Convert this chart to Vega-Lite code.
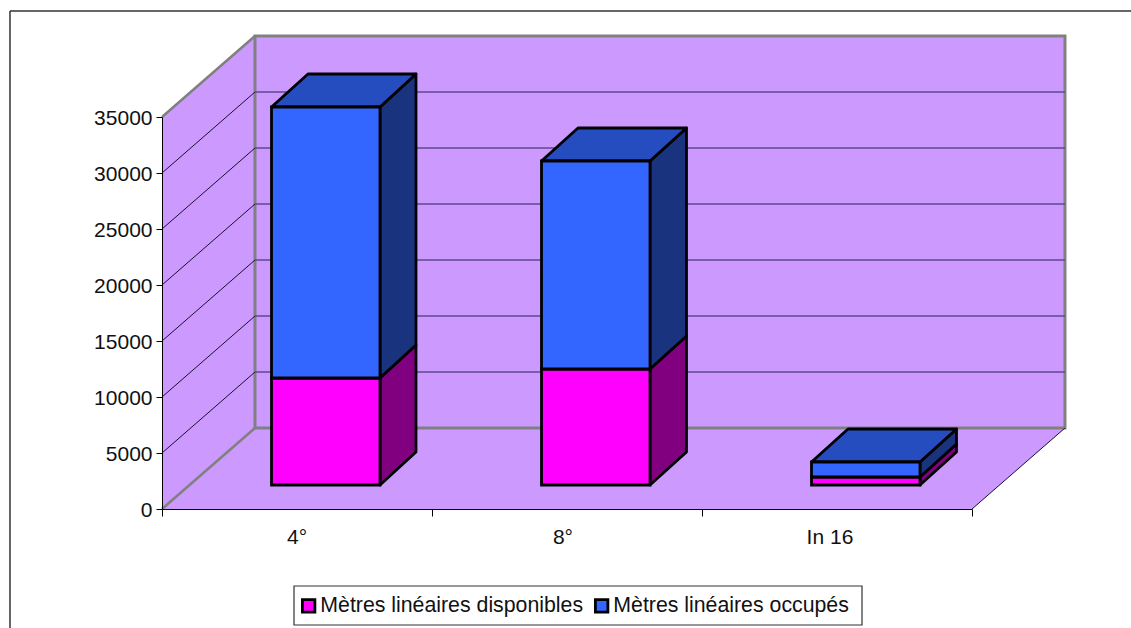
{"$schema":"https://vega.github.io/schema/vega-lite/v6.json","width":810,"height":392,"autosize":"none","padding":{"left":162,"top":117,"right":159,"bottom":119},"background":"white","config":{"view":{"stroke":null},"font":"Liberation Sans"},
"datasets":{
"bars":[
{"category":"4°","series":"Mètres linéaires disponibles","value":9550,"u":0.4056,"u2":0.8074,"v":2143,"v2":11696},
{"category":"4°","series":"Mètres linéaires occupés","value":24200,"u":0.4056,"u2":0.8074,"v":11696,"v2":35893},
{"category":"8°","series":"Mètres linéaires disponibles","value":10360,"u":1.4056,"u2":1.8074,"v":2143,"v2":12500},
{"category":"8°","series":"Mètres linéaires occupés","value":18570,"u":1.4056,"u2":1.8074,"v":12500,"v2":31071},
{"category":"In 16","series":"Mètres linéaires disponibles","value":710,"u":2.4056,"u2":2.8074,"v":2143,"v2":2857},
{"category":"In 16","series":"Mètres linéaires occupés","value":1340,"u":2.4056,"u2":2.8074,"v":2857,"v2":4196}],
"sides":[
{"face":"a1","s":"d","u":0.8074,"v":2143,"v2":11696},{"face":"a1","s":"d","u":0.9407,"v":5089,"v2":14642},
{"face":"a2","s":"o","u":0.8074,"v":11696,"v2":35893},{"face":"a2","s":"o","u":0.9407,"v":14642,"v2":38839},
{"face":"b1","s":"d","u":1.8074,"v":2143,"v2":12500},{"face":"b1","s":"d","u":1.9426,"v":5089,"v2":15446},
{"face":"b2","s":"o","u":1.8074,"v":12500,"v2":31071},{"face":"b2","s":"o","u":1.9426,"v":15446,"v2":34017},
{"face":"c1","s":"d","u":2.8074,"v":2143,"v2":2857},{"face":"c1","s":"d","u":2.9426,"v":5089,"v2":5803},
{"face":"c2","s":"o","u":2.8074,"v":2857,"v2":4196},{"face":"c2","s":"o","u":2.9426,"v":5803,"v2":7142}],
"tops":[
{"face":"a","u":0.4056,"u2":0.8074,"v":35893},{"face":"a","u":0.5407,"u2":0.9407,"v":38839},
{"face":"b","u":1.4056,"u2":1.8074,"v":31071},{"face":"b","u":1.5407,"u2":1.9426,"v":34017},
{"face":"c","u":2.4056,"u2":2.8074,"v":4196},{"face":"c","u":2.5407,"u2":2.9426,"v":7142}],
"leftwall":[{"u":0,"v":0,"v2":35000},{"u":0.3444,"v":7232,"v2":42232}],
"floor":[{"u":0,"u2":3,"v":0},{"u":0.3444,"u2":3.3444,"v":7232}],
"backwall":[{"u":0.3444,"u2":3.3444,"v":7232,"v2":42232}],
"legendbox":[{"u":0.4889,"u2":2.5926,"v":-6875,"v2":-10357}],
"lines":[
{"k":"grid","u":0.3444,"u2":3.3444,"v":12232,"v2":12232},{"k":"grid","u":0.3444,"u2":3.3444,"v":17232,"v2":17232},{"k":"grid","u":0.3444,"u2":3.3444,"v":22232,"v2":22232},{"k":"grid","u":0.3444,"u2":3.3444,"v":27232,"v2":27232},{"k":"grid","u":0.3444,"u2":3.3444,"v":32232,"v2":32232},{"k":"grid","u":0.3444,"u2":3.3444,"v":37232,"v2":37232},
{"k":"diag","u":0,"u2":0.3444,"v":5000,"v2":12232},{"k":"diag","u":0,"u2":0.3444,"v":10000,"v2":17232},{"k":"diag","u":0,"u2":0.3444,"v":15000,"v2":22232},{"k":"diag","u":0,"u2":0.3444,"v":20000,"v2":27232},{"k":"diag","u":0,"u2":0.3444,"v":25000,"v2":32232},{"k":"diag","u":0,"u2":0.3444,"v":30000,"v2":37232},
{"k":"diag","u":3,"u2":3.3444,"v":0,"v2":7232},
{"k":"edge","u":0,"u2":0.3444,"v":0,"v2":7232},{"k":"edge","u":0,"u2":0.3444,"v":35000,"v2":42232},
{"k":"frame","u":-0.563,"u2":3.6,"v":44464,"v2":44464},{"k":"frame","u":-0.563,"u2":-0.563,"v":44464,"v2":-10625}],
"cats":[{"label":"4°","u":0.5,"v":-2550},{"label":"8°","u":1.485,"v":-2550},{"label":"In 16","u":2.474,"v":-2550}]
},
"encoding":{},
"layer":[
{"data":{"name":"leftwall"},"mark":{"type":"area","fill":"#cc99ff","clip":false},"encoding":{
"x":{"field":"u","type":"quantitative","scale":{"domain":[0,3],"nice":false,"zero":false},"axis":{"values":[0,1,2,3],"labels":false,"grid":false,"title":null,"tickSize":7,"tickColor":"black","domainColor":"black","zindex":1}},
"y":{"field":"v","type":"quantitative","stack":null,"scale":{"domain":[0,35000],"nice":false,"zero":false},"axis":{"values":[0,5000,10000,15000,20000,25000,30000,35000],"format":"d","grid":false,"title":null,"tickSize":6,"tickColor":"black","domainColor":"black","labelFontSize":21,"labelColor":"#111111","labelFont":"Liberation Sans","labelPadding":4,"labelOffset":1,"zindex":1}},
"y2":{"field":"v2"}}},
{"data":{"name":"floor"},"mark":{"type":"area","orient":"horizontal","fill":"#cc99ff"},"encoding":{"x":{"field":"u","type":"quantitative","stack":null},"x2":{"field":"u2"},"y":{"field":"v","type":"quantitative"}}},
{"data":{"name":"backwall"},"mark":{"type":"rect","fill":"#cc99ff","stroke":"#808080","strokeWidth":3},"encoding":{"x":{"field":"u","type":"quantitative"},"x2":{"field":"u2"},"y":{"field":"v","type":"quantitative"},"y2":{"field":"v2"}}},
{"data":{"name":"lines"},"transform":[{"filter":"datum.k==='grid'"}],"mark":{"type":"rule","stroke":"#5e4a8c","strokeWidth":1.5},"encoding":{"x":{"field":"u","type":"quantitative"},"x2":{"field":"u2"},"y":{"field":"v","type":"quantitative"},"y2":{"field":"v2"}}},
{"data":{"name":"lines"},"transform":[{"filter":"datum.k==='diag'"}],"mark":{"type":"rule","stroke":"#1a1030","strokeWidth":1},"encoding":{"x":{"field":"u","type":"quantitative"},"x2":{"field":"u2"},"y":{"field":"v","type":"quantitative"},"y2":{"field":"v2"}}},
{"data":{"name":"lines"},"transform":[{"filter":"datum.k==='edge'"}],"mark":{"type":"rule","stroke":"#808080","strokeWidth":2.5},"encoding":{"x":{"field":"u","type":"quantitative"},"x2":{"field":"u2"},"y":{"field":"v","type":"quantitative"},"y2":{"field":"v2"}}},
{"data":{"name":"lines"},"transform":[{"filter":"datum.k==='frame'"}],"mark":{"type":"rule","stroke":"#333333","strokeWidth":1.5},"encoding":{"x":{"field":"u","type":"quantitative"},"x2":{"field":"u2"},"y":{"field":"v","type":"quantitative"},"y2":{"field":"v2"}}},
{"data":{"name":"legendbox"},"mark":{"type":"rect","fill":"white","stroke":"#333333","strokeWidth":1.2},"encoding":{"x":{"field":"u","type":"quantitative"},"x2":{"field":"u2"},"y":{"field":"v","type":"quantitative"},"y2":{"field":"v2"}}},
{"data":{"name":"sides"},"transform":[{"filter":"datum.s==='d'"}],"mark":{"type":"area","fill":"#800080","stroke":"black","strokeWidth":2.8,"strokeJoin":"round"},"encoding":{"x":{"field":"u","type":"quantitative"},"y":{"field":"v","type":"quantitative","stack":null},"y2":{"field":"v2"},"detail":{"field":"face"}}},
{"data":{"name":"sides"},"transform":[{"filter":"datum.s==='o'"}],"mark":{"type":"area","fill":"#19337f","stroke":"black","strokeWidth":2.8,"strokeJoin":"round"},"encoding":{"x":{"field":"u","type":"quantitative"},"y":{"field":"v","type":"quantitative","stack":null},"y2":{"field":"v2"},"detail":{"field":"face"}}},
{"data":{"name":"tops"},"mark":{"type":"area","orient":"horizontal","fill":"#264dbf","stroke":"black","strokeWidth":2.8,"strokeJoin":"round"},"encoding":{"x":{"field":"u","type":"quantitative","stack":null},"x2":{"field":"u2"},"y":{"field":"v","type":"quantitative"},"detail":{"field":"face"}}},
{"data":{"name":"bars"},"mark":{"type":"rect","stroke":"black","strokeWidth":2.8},"encoding":{"x":{"field":"u","type":"quantitative"},"x2":{"field":"u2"},"y":{"field":"v","type":"quantitative"},"y2":{"field":"v2"},
"fill":{"field":"series","type":"nominal","scale":{"domain":["Mètres linéaires disponibles","Mètres linéaires occupés"],"range":["#ff00ff","#3366ff"]},
"legend":{"title":null,"orient":"none","legendX":136,"legendY":478,"direction":"horizontal","columns":2,"columnPadding":5,"symbolType":"square","symbolSize":156,"symbolStrokeColor":"black","symbolStrokeWidth":2.8,"symbolOpacity":1,"labelFontSize":21.3,"labelFont":"Liberation Sans","labelColor":"#111111","labelLimit":400,"labelOffset":1,"padding":0}}}},
{"data":{"name":"cats"},"mark":{"type":"text","fontSize":21,"font":"Liberation Sans","fill":"#111111","baseline":"middle","align":"center"},"encoding":{"x":{"field":"u","type":"quantitative"},"y":{"field":"v","type":"quantitative"},"text":{"field":"label"}}}
]}
